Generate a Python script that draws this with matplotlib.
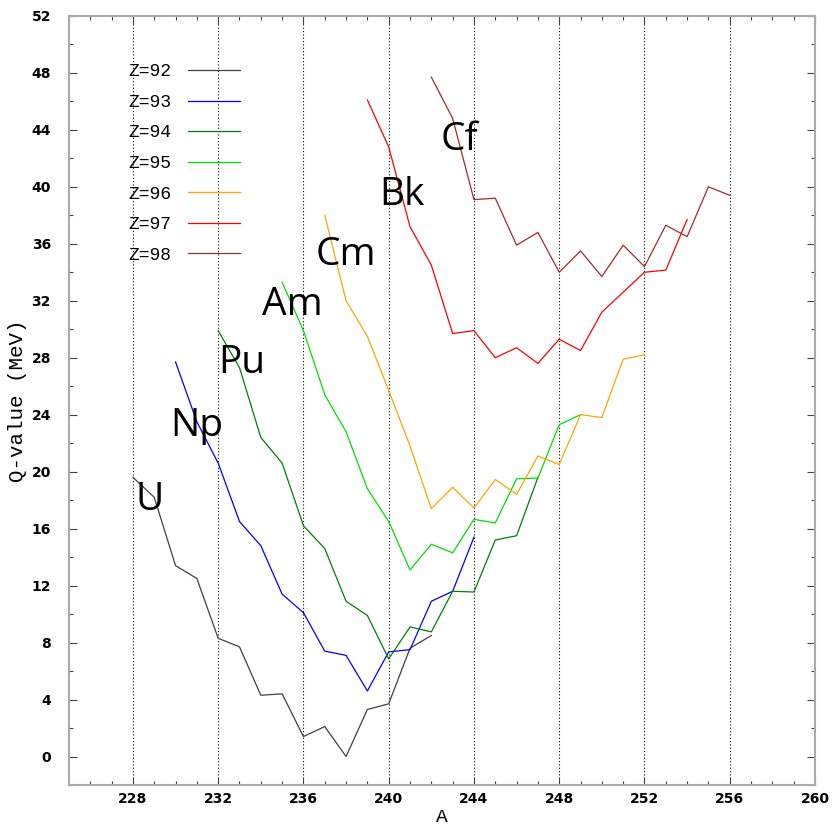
import numpy as np
import matplotlib
matplotlib.use('Agg')
import matplotlib.pyplot as plt

# Q-values (MeV) vs mass number A for each element
A_U = list(range(228, 243))
Q_U = [19.6, 18.2, 13.4, 12.5, 8.3, 7.7, 4.3, 4.4, 1.4, 2.1, 0.0, 3.3, 3.7, 7.6, 8.5]

A_Np = list(range(230, 245))
Q_Np = [27.7, 23.5, 20.6, 16.5, 14.8, 11.4, 10.1, 7.4, 7.1, 4.6, 7.35, 7.5, 10.9, 11.6, 15.4]

A_Pu = list(range(232, 248))
Q_Pu = [29.9, 27.3, 22.4, 20.6, 16.2, 14.6, 10.9, 9.9, 6.85, 9.1, 8.75, 11.6, 11.55, 15.2, 15.5, 19.6]

A_Am = list(range(235, 250))
Q_Am = [33.3, 29.9, 25.4, 22.8, 18.8, 16.5, 13.1, 14.9, 14.3, 16.65, 16.4, 19.5, 19.55, 23.3, 24.0]

A_Cm = list(range(237, 253))
Q_Cm = [38.0, 32.0, 29.5, 25.7, 21.8, 17.4, 18.9, 17.45, 19.45, 18.4, 21.1, 20.5, 24.0, 23.8, 27.9, 28.2]

A_Bk = list(range(239, 255))
Q_Bk = [46.1, 42.8, 37.2, 34.5, 29.7, 29.9, 28.0, 28.7, 27.6, 29.3, 28.5, 31.2, 32.6, 34.0, 34.15, 37.7]

A_Cf = list(range(242, 257))
Q_Cf = [47.7, 44.8, 39.1, 39.2, 35.9, 36.8, 34.0, 35.5, 33.7, 35.9, 34.4, 37.3, 36.5, 40.0, 39.4]

labels = ['Z=92', 'Z=93', 'Z=94', 'Z=95', 'Z=96', 'Z=97', 'Z=98']
colors = ['#404040', '#0000ff', '#008000', '#00e000', '#ffa500', '#ff0000', '#a52a2a']
names = ['U', 'Np', 'Pu', 'Am', 'Cm', 'Bk', 'Cf']
name_pos = [(228.8, 18.0), (231.0, 23.2), (233.1, 27.6), (235.5, 31.7),
            (238.0, 35.2), (240.6, 39.4), (243.3, 43.3)]

series = [(A_U, Q_U), (A_Np, Q_Np), (A_Pu, Q_Pu), (A_Am, Q_Am),
          (A_Cm, Q_Cm), (A_Bk, Q_Bk), (A_Cf, Q_Cf)]

fig = plt.figure(figsize=(8.33, 8.27), dpi=100)
ax = fig.add_axes([0.0828, 0.0508, 0.8956, 0.93])

# vertical dotted grid at major x ticks
for xg in range(228, 260, 4):
    ax.axvline(xg, color='k', lw=0.8, ls=(0, (1, 2)), zorder=0)

for (a, q), lab, c in zip(series, labels, colors):
    ax.plot(a, q, color=c, lw=0.9, label=lab)

for n, (x, y) in zip(names, name_pos):
    ax.text(x, y, n, fontsize=28, family=['Open Sans', 'DejaVu Sans'],
            ha='center', va='center')

ax.set_xlim(225, 260)
ax.set_ylim(-2, 52)
ax.set_xticks(range(228, 261, 4))
ax.set_xticks(range(225, 261), minor=True)
ax.set_yticks(range(0, 53, 4))
ax.set_yticks(range(-2, 53, 2), minor=True)

tickfont = ['Liberation Sans Narrow', 'DejaVu Sans']
for t in ax.get_xticklabels() + ax.get_yticklabels():
    t.set_family(tickfont)
    t.set_fontweight('bold')
    t.set_fontsize(10)

ax.tick_params(which='both', direction='in', top=True, right=True, color='#444444')
ax.tick_params(which='major', length=6, width=0.8)
ax.tick_params(which='minor', length=3, width=0.8)
ax.tick_params(axis='y', pad=13)
ax.tick_params(axis='x', pad=5)

for s in ax.spines.values():
    s.set_color('#aaaaaa')
    s.set_linewidth(1.5)

ax.set_xlabel('A', family=['Liberation Mono', 'DejaVu Sans Mono'], fontsize=14, labelpad=2)
ax.set_ylabel('Q-value (MeV)', family=['Liberation Mono', 'DejaVu Sans Mono'], fontsize=15, labelpad=3)

ax.legend(loc='upper left', bbox_to_anchor=(0.068, 0.95), frameon=False, markerfirst=False,
          prop={'family': ['Liberation Mono', 'DejaVu Sans Mono'], 'size': 13},
          handlelength=2.9, handletextpad=0.9, labelspacing=0.75, borderpad=0)

fig.savefig('out.png', dpi=100)
